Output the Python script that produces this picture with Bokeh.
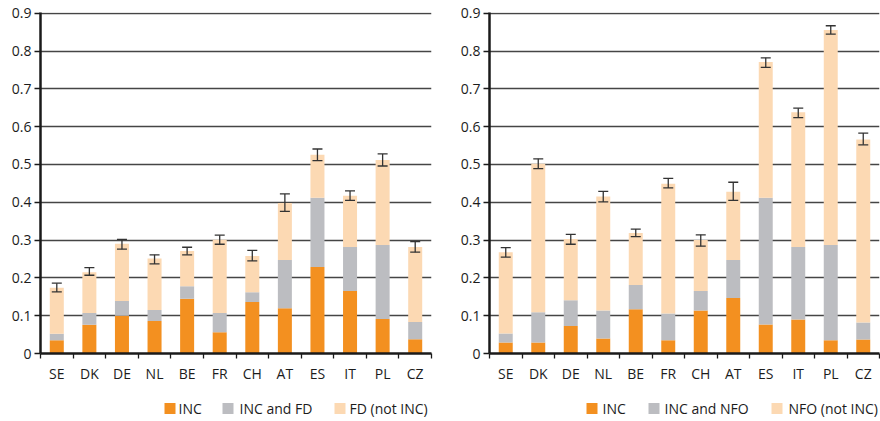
from bokeh.plotting import figure
from bokeh.models import Range1d, FixedTicker, Whisker, TeeHead, ColumnDataSource
from bokeh.core.properties import value
from bokeh.layouts import row, column
from bokeh.embed import file_html
from bokeh.resources import INLINE

countries = ["SE", "DK", "DE", "NL", "BE", "FR", "CH", "AT", "ES", "IT", "PL", "CZ"]
y_ticks = [0, 0.1, 0.2, 0.3, 0.4, 0.5, 0.6, 0.7, 0.8, 0.9]

# Left panel: INC / INC and FD / FD (not INC)
left_inc = [0.035, 0.076, 0.100, 0.086, 0.145, 0.056, 0.136, 0.120, 0.229, 0.165, 0.091, 0.038]
left_inc_fd = [0.017, 0.031, 0.039, 0.029, 0.033, 0.051, 0.026, 0.127, 0.183, 0.117, 0.196, 0.045]
left_fd_only = [0.122, 0.108, 0.151, 0.136, 0.093, 0.194, 0.096, 0.151, 0.114, 0.135, 0.225, 0.199]
left_err_low = [0.163, 0.207, 0.276, 0.237, 0.261, 0.289, 0.245, 0.376, 0.510, 0.405, 0.496, 0.268]
left_err_high = [0.186, 0.227, 0.302, 0.261, 0.281, 0.313, 0.273, 0.422, 0.541, 0.430, 0.528, 0.296]
left_labels = ["INC", "INC and FD", "FD (not INC)"]

# Right panel: INC / INC and NFO / NFO (not INC)
right_inc = [0.029, 0.029, 0.073, 0.040, 0.117, 0.035, 0.114, 0.147, 0.077, 0.090, 0.035, 0.037]
right_inc_nfo = [0.024, 0.080, 0.068, 0.074, 0.064, 0.071, 0.051, 0.100, 0.335, 0.192, 0.252, 0.045]
right_nfo_only = [0.215, 0.393, 0.162, 0.301, 0.138, 0.343, 0.135, 0.181, 0.359, 0.356, 0.569, 0.484]
right_err_low = [0.255, 0.489, 0.289, 0.401, 0.309, 0.438, 0.284, 0.405, 0.757, 0.624, 0.845, 0.552]
right_err_high = [0.280, 0.515, 0.315, 0.429, 0.329, 0.463, 0.314, 0.453, 0.782, 0.649, 0.867, 0.583]
right_labels = ["INC", "INC and NFO", "NFO (not INC)"]

COLORS = ["#F39020", "#BCBDC1", "#FCD9B3"]
FONT = "Open Sans"
TEXT = "#1c1c1c"
FIG_W = 440


def make_chart(inc, both, only, lo, hi, border_left, border_right):
    n = len(countries)
    xs = [i + 0.5 for i in range(n)]
    src = ColumnDataSource(dict(x=xs, a=inc, b=both, c=only, lo=lo, hi=hi))
    p = figure(width=FIG_W, height=394, output_backend="svg", toolbar_location=None,
               x_range=Range1d(0, n), y_range=Range1d(0, 0.902),
               min_border_left=border_left, min_border_right=border_right,
               min_border_top=12, min_border_bottom=41)
    p.outline_line_color = None

    p.vbar_stack(["a", "b", "c"], x="x", width=0.43, source=src,
                 color=COLORS, line_color=None)

    w = Whisker(source=src, base="x", lower="lo", upper="hi", dimension="height",
                line_color="#333333", line_width=1.3,
                upper_head=TeeHead(size=10, line_color="#333333", line_width=1.3),
                lower_head=TeeHead(size=10, line_color="#333333", line_width=1.3))
    w.level = "overlay"
    p.add_layout(w)

    # y axis
    p.yaxis.ticker = FixedTicker(ticks=y_ticks)
    p.yaxis.major_label_overrides = {0: "0"}
    p.yaxis.axis_line_color = "#1a1a1a"
    p.yaxis.axis_line_width = 2.5
    p.yaxis.major_tick_out = 6
    p.yaxis.major_tick_in = 0
    p.yaxis.major_tick_line_color = "#1a1a1a"
    p.yaxis.major_tick_line_width = 1.3
    p.yaxis.minor_tick_line_color = None
    p.yaxis.major_label_standoff = 3
    p.yaxis.major_label_text_font = FONT
    p.yaxis.major_label_text_font_size = "14px"
    p.yaxis.major_label_text_color = TEXT

    # x axis: labels at centres, ticks at boundaries
    p.xaxis.ticker = FixedTicker(ticks=xs, minor_ticks=[float(i) for i in range(n + 1)])
    p.xaxis.major_label_overrides = {x: c for x, c in zip(xs, countries)}
    p.xaxis.axis_line_color = "#1a1a1a"
    p.xaxis.axis_line_width = 2.5
    p.xaxis.major_tick_out = 0
    p.xaxis.major_tick_in = 0
    p.xaxis.minor_tick_out = 5
    p.xaxis.minor_tick_in = 0
    p.xaxis.minor_tick_line_color = "#1a1a1a"
    p.xaxis.minor_tick_line_width = 1.3
    p.xaxis.major_label_standoff = 5
    p.xaxis.major_label_text_font = FONT
    p.xaxis.major_label_text_font_size = "14px"
    p.xaxis.major_label_text_color = TEXT

    p.xgrid.grid_line_color = None
    p.ygrid.ticker = FixedTicker(ticks=y_ticks)
    p.ygrid.grid_line_color = "#454545"
    p.ygrid.grid_line_width = 1.5
    return p


def make_legend(labels, swatch_x, text_x):
    # a thin strip below each chart holding its key (pixel coordinates)
    lg = figure(width=FIG_W, height=26, output_backend="svg", toolbar_location=None,
                x_range=Range1d(0, FIG_W), y_range=Range1d(0, 26),
                x_axis_location=None, y_axis_location=None,
                min_border=0)
    lg.outline_line_color = None
    lg.grid.grid_line_color = None
    lg.scatter(x=swatch_x, y=[12] * len(labels), marker="square", size=11,
               color=COLORS, line_color=None)
    lg.text(x=text_x, y=[12] * len(labels), text=labels,
            text_font=value(FONT), text_font_size="14px", text_color=TEXT,
            text_baseline="middle", text_align="left")
    return lg


p1 = make_chart(left_inc, left_inc_fd, left_fd_only, left_err_low, left_err_high, 40, 9)
p2 = make_chart(right_inc, right_inc_nfo, right_nfo_only, right_err_low, right_err_high, 49, 1)
l1 = make_legend(left_labels, [169.5, 227.5, 339.5], [178, 239, 349])
l2 = make_legend(right_labels, [151.5, 213.5, 336.5], [162, 224, 348])

layout = column(row(p1, p2), row(l1, l2))
open("out.html", "w").write(file_html(layout, INLINE))
